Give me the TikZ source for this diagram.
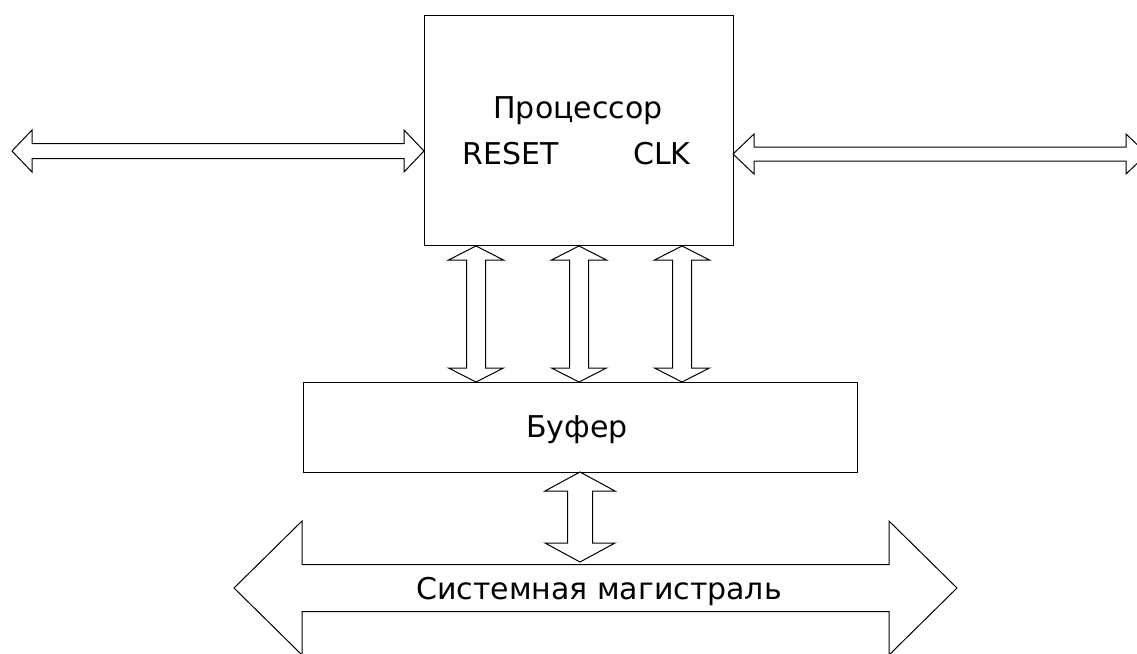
\documentclass[tikz,border=0pt]{standalone}
\usepackage{fontspec}
\setmainfont{DejaVu Sans}
% horizontal double block arrow: left tip x, right tip x, axis y, shaft half-width, head half-width, head length
\newcommand\hblockarrow[6]{%
  \draw[blockarrow] (#1,#3) -- ({#1+#6},{#3-#5}) -- ({#1+#6},{#3-#4}) -- ({#2-#6},{#3-#4})
    -- ({#2-#6},{#3-#5}) -- (#2,#3) -- ({#2-#6},{#3+#5}) -- ({#2-#6},{#3+#4})
    -- ({#1+#6},{#3+#4}) -- ({#1+#6},{#3+#5}) -- cycle;}
% vertical double block arrow: axis x, top tip y, bottom tip y, shaft half-width, head half-width, head length
\newcommand\vblockarrow[6]{%
  \draw[blockarrow] (#1,#2) -- ({#1+#5},{#2+#6}) -- ({#1+#4},{#2+#6}) -- ({#1+#4},{#3-#6})
    -- ({#1+#5},{#3-#6}) -- (#1,#3) -- ({#1-#5},{#3-#6}) -- ({#1-#4},{#3-#6})
    -- ({#1-#4},{#2+#6}) -- ({#1-#5},{#2+#6}) -- cycle;}
\begin{document}
\begin{tikzpicture}[x=1pt,y=-1pt,
  box/.style={draw=black, line width=1pt, inner sep=0pt, anchor=north west},
  blockarrow/.style={draw=black, fill=white, line width=1pt, line join=miter},
  lbl/.style={font=\fontsize{30}{30}\selectfont, inner sep=0pt, anchor=base}]
\useasboundingbox (0,0) rectangle (1137,653);
\fill[white] (0,0) rectangle (1137,653);

% blocks
\node[box, minimum width=309pt, minimum height=230pt] (cpu) at (424,15) {};
\node[box, minimum width=554pt, minimum height=90pt] (buf) at (303,382) {};

% external buses of the processor
\hblockarrow{12}{424}{151}{7.5}{21}{20}
\hblockarrow{733}{1147}{154}{7}{20}{21}

% processor <-> buffer
\vblockarrow{476}{246}{382}{9.5}{27.5}{14}
\vblockarrow{579}{246}{382}{9.5}{27.5}{14}
\vblockarrow{682}{246}{382}{9.5}{27.5}{14}

% buffer <-> system bus
\vblockarrow{580}{472}{562}{12.5}{35}{19}

% system bus
\hblockarrow{234}{957}{588}{23.5}{67}{68}

% labels
\node[lbl] (cpulbl) at (578,118) {Процессор};
\node[lbl] (reset) at (511,164) {RESET};
\node[lbl] (clk) at (662,164) {CLK};
\node[lbl] (buflbl) at (577,437) {Буфер};
\node[lbl] (buslbl) at (599,599) {Системная магистраль};
\end{tikzpicture}
\end{document}
